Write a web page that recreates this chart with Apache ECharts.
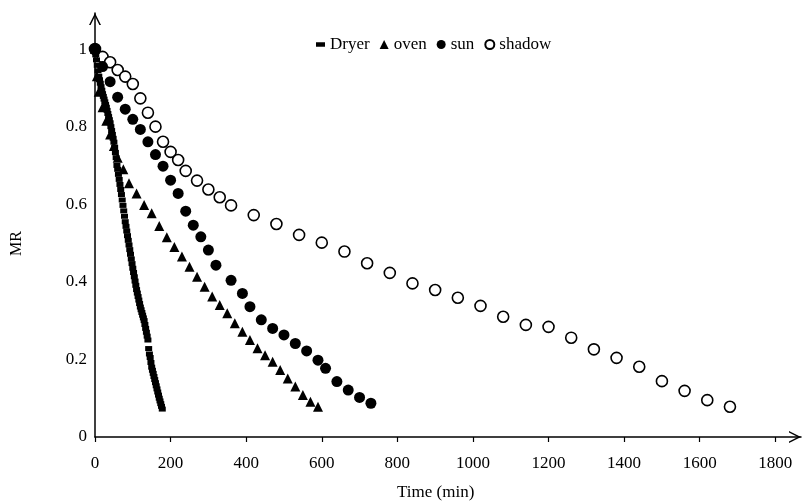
<!DOCTYPE html>
<html>
<head>
<meta charset="utf-8">
<script src="https://cdn.jsdelivr.net/npm/echarts@6/dist/echarts.min.js"></script>
<style>
  html, body { margin: 0; padding: 0; background: #fff; }
  #chart { width: 803px; height: 504px; }
</style>
</head>
<body>
<div id="chart"></div>
<script>
// tick labels
const xTicks = [0, 200, 400, 600, 800, 1000, 1200, 1400, 1600, 1800];
const yTicks = [0, 0.2, 0.4, 0.6, 0.8, 1];

// Dryer (every 2 min)
const dryerTime = [0, 2, 4, 6, 8, 10, 12, 14, 16, 18, 20, 22, 24, 26, 28, 30, 32, 34, 36, 38,
  40, 42, 44, 46, 48, 50, 52, 54, 56, 58, 60, 62, 64, 66, 68, 70, 72, 74, 76, 78,
  80, 82, 84, 86, 88, 90, 92, 94, 96, 98, 100, 102, 104, 106, 108, 110, 112, 114, 116, 118,
  120, 122, 124, 126, 128, 130, 132, 134, 136, 138, 140, 142, 144, 146, 148, 150, 152, 154, 156, 158,
  160, 162, 164, 166, 168, 170, 172, 174, 176, 178];
const dryerMR = [1.000, 0.985, 0.972, 0.958, 0.944, 0.930, 0.921, 0.912, 0.903, 0.894, 0.885, 0.878, 0.871, 0.864, 0.857, 0.850, 0.842, 0.834, 0.826, 0.818,
  0.810, 0.800, 0.790, 0.780, 0.770, 0.760, 0.747, 0.733, 0.720, 0.700, 0.690, 0.677, 0.664, 0.651, 0.638, 0.625, 0.611, 0.597, 0.583, 0.569,
  0.555, 0.543, 0.531, 0.519, 0.507, 0.495, 0.483, 0.471, 0.459, 0.447, 0.435, 0.424, 0.413, 0.402, 0.391, 0.380, 0.371, 0.362, 0.353, 0.344,
  0.335, 0.328, 0.321, 0.314, 0.307, 0.300, 0.290, 0.280, 0.270, 0.260, 0.250, 0.228, 0.214, 0.205, 0.192, 0.180, 0.172, 0.164, 0.156, 0.148,
  0.140, 0.132, 0.124, 0.116, 0.108, 0.100, 0.093, 0.086, 0.079, 0.072];

// oven
const ovenTime = [0, 5, 10, 20, 30, 40, 50, 60, 75, 90, 110, 130, 150, 170, 190, 210, 230, 250, 270, 290, 310,
  330, 350, 370, 390, 410, 430, 450, 470, 490, 510, 530, 550, 570, 590];
const ovenMR = [1.000, 0.930, 0.890, 0.850, 0.815, 0.780, 0.750, 0.720, 0.690, 0.654, 0.628, 0.598, 0.577, 0.544, 0.515, 0.490, 0.465, 0.439, 0.413, 0.387, 0.362,
  0.340, 0.319, 0.293, 0.271, 0.250, 0.229, 0.211, 0.194, 0.173, 0.151, 0.130, 0.108, 0.091, 0.078];

// sun
const sunTime = [0, 20, 40, 60, 80, 100, 120, 140, 160, 180, 200, 220, 240, 260, 280, 300, 320, 360, 390, 410,
  440, 470, 500, 530, 560, 590, 610, 640, 670, 700, 730];
const sunMR = [1.000, 0.955, 0.916, 0.876, 0.845, 0.819, 0.793, 0.761, 0.728, 0.698, 0.662, 0.628, 0.582, 0.546, 0.516, 0.482, 0.443, 0.404, 0.370, 0.336,
  0.302, 0.280, 0.263, 0.241, 0.222, 0.198, 0.177, 0.143, 0.121, 0.102, 0.087];

// shadow
const shadowTime = [0, 20, 40, 60, 80, 100, 120, 140, 160, 180, 200, 220, 240, 270, 300, 330, 360, 420, 480, 540,
  600, 660, 720, 780, 840, 900, 960, 1020, 1080, 1140, 1200, 1260, 1320, 1380, 1440, 1500, 1560, 1620, 1680];
const shadowMR = [1.000, 0.980, 0.966, 0.946, 0.929, 0.910, 0.873, 0.836, 0.800, 0.761, 0.735, 0.714, 0.686, 0.661, 0.638, 0.618, 0.597, 0.572, 0.549, 0.521,
  0.501, 0.478, 0.448, 0.423, 0.396, 0.379, 0.359, 0.338, 0.310, 0.289, 0.284, 0.256, 0.226, 0.204, 0.181, 0.144, 0.119, 0.095, 0.078];

function pairs(t, v) {
  return t.map(function (x, i) { return [x, v[i]]; });
}

const font = "'Liberation Serif', 'Times New Roman', serif";
const arrow = "path://M0,12 L6,0 L12,12 L10.4,12 L6,3.2 L1.6,12 Z";
const dash = "path://M0,0 L8,0 L8,4 L0,4 Z";

const chart = echarts.init(document.getElementById("chart"));
chart.setOption({
  animation: false,
  backgroundColor: "#fff",
  grid: { left: 95, right: 2, top: 13, bottom: 67, containLabel: false },
  legend: {
    left: 316,
    top: 36,
    padding: 0,
    itemGap: 10,
    itemWidth: 9,
    itemHeight: 9,
    textStyle: { fontFamily: font, fontSize: 17, color: "#000" },
    data: [
      { name: "Dryer", icon: dash },
      { name: "oven" },
      { name: "sun" },
      { name: "shadow" },
    ],
  },
  xAxis: {
    type: "value",
    min: 0,
    max: 1868,
    interval: 200,
    splitLine: { show: false },
    axisLine: {
      show: true,
      symbol: ["none", arrow],
      symbolSize: [12, 13],
      symbolOffset: [0, -6],
      lineStyle: { color: "#000", width: 1.5 },
    },
    axisTick: { show: true, length: 5, customValues: xTicks, lineStyle: { color: "#000", width: 1.2 } },
    axisLabel: {
      customValues: xTicks,
      margin: 18,
      color: "#000",
      fontFamily: font,
      fontSize: 17,
      formatter: function (v) { return String(v); },
    },
  },
  yAxis: {
    type: "value",
    min: 0,
    max: 1.093,
    splitLine: { show: false },
    axisLine: {
      show: true,
      symbol: ["none", arrow],
      symbolSize: [12, 13],
      symbolOffset: [0, -6],
      lineStyle: { color: "#000", width: 1.5 },
    },
    axisTick: { show: false },
    axisLabel: {
      customValues: yTicks,
      margin: 8,
      color: "#000",
      fontFamily: font,
      fontSize: 17,
      formatter: function (v) { return String(v); },
    },
  },
  graphic: [
    {
      type: "text",
      left: 9,
      top: 231,
      rotation: Math.PI / 2,
      style: { text: "MR", font: "16px " + font, fill: "#000" },
    },
    {
      type: "text",
      left: 397,
      top: 484,
      style: { text: "Time (min)", font: "17px " + font, fill: "#000" },
    },
  ],
  series: [
    {
      name: "shadow",
      type: "scatter",
      z: 2,
      symbol: "circle",
      symbolSize: 11,
      itemStyle: { color: "#fff", borderColor: "#000", borderWidth: 1.6, opacity: 1 },
      data: pairs(shadowTime, shadowMR),
    },
    {
      name: "sun",
      type: "scatter",
      z: 3,
      symbol: "circle",
      symbolSize: 11,
      itemStyle: { color: "#000", opacity: 1 },
      data: pairs(sunTime, sunMR),
    },
    {
      name: "Dryer",
      type: "scatter",
      z: 4,
      symbol: "rect",
      symbolSize: [7, 5],
      itemStyle: { color: "#000", opacity: 1 },
      data: pairs(dryerTime, dryerMR),
    },
    {
      name: "oven",
      type: "scatter",
      z: 5,
      symbol: "triangle",
      symbolSize: 10,
      itemStyle: { color: "#000", opacity: 1 },
      data: pairs(ovenTime, ovenMR),
    },
  ],
});
</script>
</body>
</html>
